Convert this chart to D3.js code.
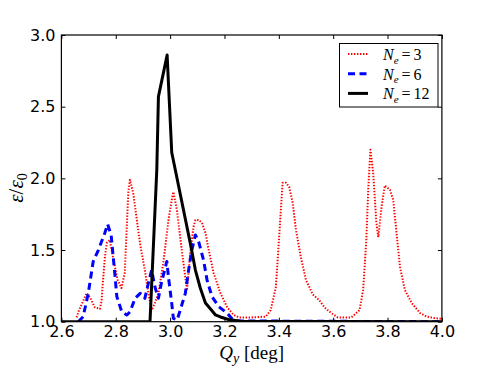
<!DOCTYPE html>
<html>
<head>
<meta charset="utf-8">
<script src="https://cdn.jsdelivr.net/npm/d3@7"></script>
<style>
body { margin: 0; background: #fff; }
svg { display: block; }
.tick text { font-family: "DejaVu Sans"; font-size: 16px; fill: #000; }
.math { font-family: "Liberation Serif"; fill: #000; }
</style>
</head>
<body>
<svg width="491" height="368"></svg>
<script>
'use strict';

// N_e = 3 (red dotted)
const qRed = [2.656, 2.663, 2.693, 2.705, 2.723, 2.742, 2.748, 2.754, 2.760, 2.767, 2.778, 2.793, 2.807, 2.821, 2.833, 2.846, 2.852, 2.864, 2.889, 2.907, 2.920, 2.932, 2.944, 2.957, 2.975, 2.994, 3.006, 3.012, 3.025, 3.037, 3.049, 3.062, 3.074, 3.086, 3.093, 3.105, 3.117, 3.130, 3.142, 3.160, 3.185, 3.210, 3.234, 3.253, 3.300, 3.352, 3.370, 3.389, 3.401, 3.414, 3.426, 3.438, 3.451, 3.463, 3.481, 3.500, 3.525, 3.549, 3.568, 3.593, 3.617, 3.667, 3.685, 3.697, 3.710, 3.722, 3.729, 3.737, 3.747, 3.759, 3.766, 3.778, 3.790, 3.809, 3.821, 3.833, 3.846, 3.864, 3.889, 3.920, 3.944, 3.970, 4.000];
const epsRed = [1.03, 1.07, 1.20, 1.17, 1.10, 1.09, 1.15, 1.31, 1.45, 1.55, 1.57, 1.42, 1.29, 1.235, 1.34, 1.90, 1.99, 1.90, 1.55, 1.36, 1.20, 1.08, 1.13, 1.20, 1.41, 1.71, 1.85, 1.905, 1.78, 1.59, 1.41, 1.22, 1.48, 1.66, 1.71, 1.71, 1.69, 1.62, 1.50, 1.34, 1.20, 1.10, 1.047, 1.03, 1.03, 1.035, 1.08, 1.24, 1.59, 1.97, 1.97, 1.94, 1.83, 1.64, 1.45, 1.29, 1.19, 1.15, 1.10, 1.06, 1.03, 1.03, 1.06, 1.08, 1.22, 1.57, 1.92, 2.20, 2.04, 1.69, 1.59, 1.80, 1.95, 1.92, 1.85, 1.62, 1.38, 1.22, 1.13, 1.06, 1.036, 1.026, 1.02];

// N_e = 6 (blue dashed)
const qBlue = [2.662, 2.680, 2.699, 2.717, 2.736, 2.760, 2.770, 2.783, 2.797, 2.804, 2.822, 2.841, 2.853, 2.871, 2.890, 2.907, 2.920, 2.932, 2.944, 2.957, 2.969, 2.988, 2.994, 3.006, 3.012, 3.026, 3.037, 3.056, 3.068, 3.080, 3.093, 3.105, 3.123, 3.136, 3.154, 3.179, 3.210, 3.229, 3.250, 4.000];
const epsBlue = [1.0, 1.035, 1.20, 1.42, 1.50, 1.62, 1.68, 1.605, 1.325, 1.175, 1.07, 1.047, 1.07, 1.163, 1.198, 1.163, 1.268, 1.36, 1.244, 1.163, 1.28, 1.42, 1.31, 1.128, 1.024, 1.012, 1.08, 1.198, 1.36, 1.50, 1.605, 1.558, 1.43, 1.29, 1.175, 1.105, 1.06, 1.017, 1.005, 1.0];

// N_e = 12 (black solid)
const qBlack = [2.600, 2.926, 2.951, 2.957, 2.989, 3.006, 3.019, 3.074, 3.093, 3.111, 3.130, 3.148, 3.167, 3.185, 3.215, 3.259, 4.000];
const epsBlack = [1.0, 1.0, 2.06, 2.57, 2.86, 2.18, 2.06, 1.55, 1.36, 1.235, 1.13, 1.09, 1.047, 1.033, 1.015, 1.003, 1.0];

const xTicks = [2.6, 2.8, 3.0, 3.2, 3.4, 3.6, 3.8, 4.0];
const yTicks = [1.0, 1.5, 2.0, 2.5, 3.0];
const legendLabels = ["3", "6", "12"];

const mLeft = 61.4, mRight = 441.9, mTop = 35, mBottom = 321.7;

const svg = d3.select("svg");
const x = d3.scaleLinear().domain([2.6, 4.0]).range([mLeft, mRight]);
const y = d3.scaleLinear().domain([1.0, 3.0]).range([mBottom, mTop]);
const fmt = d3.format(".1f");

svg.append("clipPath").attr("id", "clip")
	.append("rect")
	.attr("x", mLeft).attr("y", mTop)
	.attr("width", mRight - mLeft).attr("height", mBottom - mTop);

const series = [
	{q: qRed, eps: epsRed, color: "#ff0000", width: 2, dash: "1.4,1.6"},
	{q: qBlue, eps: epsBlue, color: "#0000ff", width: 3, dash: "7,4.5"},
	{q: qBlack, eps: epsBlack, color: "#000000", width: 3, dash: null}
];

const line = d3.line()
	.x(d => x(d[0]))
	.y(d => y(d[1]));

const plot = svg.append("g").attr("clip-path", "url(#clip)");
plot.selectAll("path")
	.data(series)
	.enter().append("path")
	.attr("d", d => line(d3.zip(d.q, d.eps)))
	.attr("fill", "none")
	.attr("stroke", d => d.color)
	.attr("stroke-width", d => d.width)
	.attr("stroke-dasharray", d => d.dash)
	.attr("stroke-linejoin", "round");

// axes, ticks pointing inward on all four sides
svg.append("g")
	.attr("transform", `translate(0,${mBottom})`)
	.call(d3.axisBottom(x).tickValues(xTicks).tickFormat(fmt).tickSize(-4).tickPadding(3.5));
svg.append("g")
	.attr("transform", `translate(0,${mTop})`)
	.call(d3.axisTop(x).tickValues(xTicks).tickFormat("").tickSize(-4));
svg.append("g")
	.attr("transform", `translate(${mLeft},0)`)
	.call(d3.axisLeft(y).tickValues(yTicks).tickFormat(fmt).tickSize(-4).tickPadding(6));
svg.append("g")
	.attr("transform", `translate(${mRight},0)`)
	.call(d3.axisRight(y).tickValues(yTicks).tickFormat("").tickSize(-4));
svg.selectAll(".domain").remove();
svg.selectAll(".tick line").attr("stroke", "#000").attr("stroke-width", 1);

svg.append("rect")
	.attr("x", mLeft).attr("y", mTop)
	.attr("width", mRight - mLeft).attr("height", mBottom - mTop)
	.attr("fill", "none")
	.attr("stroke", "#000")
	.attr("stroke-width", 1.2);

// axis labels
const xl = svg.append("text")
	.attr("class", "math")
	.style("font-size", "19px")
	.attr("x", (mLeft + mRight) / 2)
	.attr("y", 358.5)
	.attr("text-anchor", "middle");
xl.append("tspan").attr("font-style", "italic").text("Q");
xl.append("tspan").attr("font-style", "italic").style("font-size", "14px").attr("dy", 4).text("y");
xl.append("tspan").attr("dy", -4).text(" [deg]");

const yl = svg.append("text")
	.attr("class", "math")
	.style("font-size", "21px")
	.attr("transform", "translate(23,188) rotate(-90)")
	.attr("text-anchor", "middle");
yl.append("tspan").attr("font-style", "italic").text("ε");
yl.append("tspan").text("/");
yl.append("tspan").attr("font-style", "italic").text("ε");
yl.append("tspan").style("font-size", "14px").attr("dy", 4).text("0");

// legend
const legend = svg.append("g");
legend.append("rect")
	.attr("x", 339.5).attr("y", 43.5)
	.attr("width", 98.5).attr("height", 63.5)
	.attr("fill", "#fff")
	.attr("stroke", "#000")
	.attr("stroke-width", 1);

const rows = legend.selectAll("g.row")
	.data(series)
	.enter().append("g")
	.attr("class", "row")
	.attr("transform", (d, i) => `translate(0,${54 + i * 19.7})`);

rows.append("line")
	.attr("x1", 348).attr("x2", 368)
	.attr("stroke", d => d.color)
	.attr("stroke-width", d => d.width)
	.attr("stroke-dasharray", d => d.dash);

const labels = rows.append("text")
	.attr("class", "math")
	.style("font-size", "16px")
	.attr("x", 383)
	.attr("y", 6);
labels.append("tspan").attr("font-style", "italic").text("N");
labels.append("tspan").attr("font-style", "italic").style("font-size", "11px").attr("dy", 3.5).text("e");
labels.append("tspan").attr("dy", -3.5).attr("dx", 3).text("=");
labels.append("tspan").attr("dx", 3).text((d, i) => legendLabels[i]);
</script>
</body>
</html>
